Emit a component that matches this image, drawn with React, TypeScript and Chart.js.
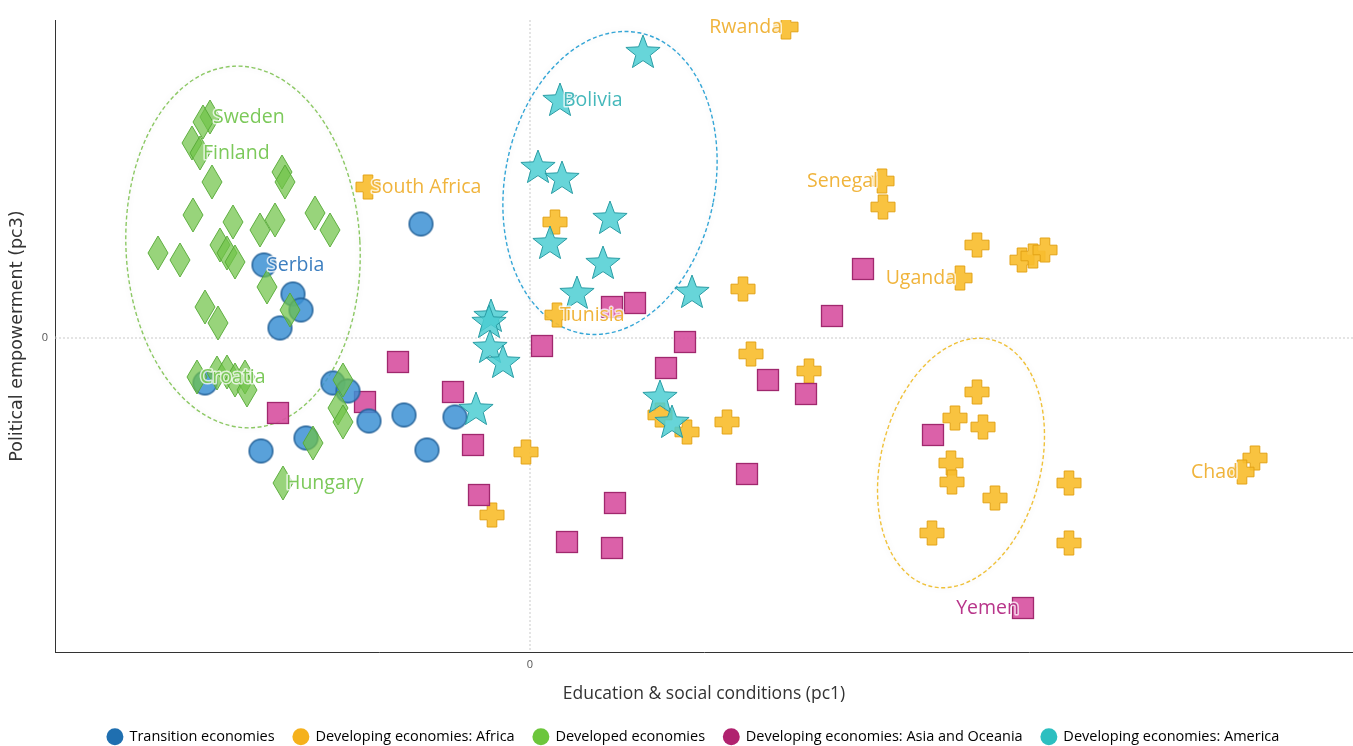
import React, { useEffect, useRef } from 'react';
import { Chart, registerables } from 'chart.js';

Chart.register(...registerables);

// ---------- Data (x = Education & social conditions pc1, y = Political empowerment pc3) ----------
const SERIES_NAMES = [
  'Transition economies',
  'Developing economies: Africa',
  'Developed economies',
  'Developing economies: Asia and Oceania',
  'Developing economies: America',
];

const transitionX = [-1.09, -2.66, -2.37, -2.29, -2.5, -3.25, -1.97, -1.82, -1.61, -1.26, -0.75, -2.69, -2.24, -1.03];
const transitionY = [1.14, 0.73, 0.44, 0.28, 0.1, -0.45, -0.45, -0.53, -0.83, -0.77, -0.79, -1.13, -1.0, -1.12];

const africaX = [2.56, -1.62, 3.52, 3.53, 0.25, 0.27, 2.13, 4.47, 4.92, 5.03, 5.15, 4.3, 2.21, 2.79, 1.97, 1.3, 1.57, -0.04, -0.38, 4.47, 4.25, 4.53, 4.21, 4.22, 4.65, 4.02, 5.39, 5.39, 7.25, 7.12];
const africaY = [3.11, 1.51, 1.57, 1.31, 1.16, 0.23, 0.49, 0.93, 0.78, 0.82, 0.88, 0.6, -0.16, -0.33, -0.84, -0.77, -0.94, -1.14, -1.77, -0.54, -0.8, -0.89, -1.25, -1.44, -1.6, -1.95, -1.45, -2.05, -1.2, -1.34];

const developedX = [-3.2, -3.27, -3.38, -3.3, -3.18, -2.48, -2.45, -3.37, -2.97, -2.7, -2.55, -2.15, -2.0, -3.72, -3.5, -3.1, -3.03, -2.95, -2.63, -3.25, -3.12, -2.4, -3.33, -3.13, -3.03, -2.95, -2.85, -2.83, -1.87, -1.92, -1.87, -2.17, -2.47];
const developedY = [2.21, 2.16, 1.95, 1.85, 1.56, 1.66, 1.56, 1.23, 1.16, 1.08, 1.18, 1.25, 1.08, 0.85, 0.78, 0.93, 0.85, 0.76, 0.51, 0.31, 0.15, 0.28, -0.39, -0.35, -0.34, -0.42, -0.39, -0.52, -0.42, -0.7, -0.84, -1.05, -1.45];

const asiaX = [-2.52, -1.32, -1.65, -0.77, -0.57, -0.51, 0.12, 0.37, 0.85, 0.82, 0.82, 1.05, 1.55, 1.36, 2.38, 2.76, 2.17, 3.02, 3.33, 4.03, 4.93];
const asiaY = [-0.75, -0.24, -0.64, -0.54, -1.07, -1.57, -0.08, -2.04, -1.65, -2.1, 0.31, 0.35, -0.04, -0.3, -0.42, -0.56, -1.36, 0.22, 0.69, -0.97, -2.7];

const americaX = [1.13, 0.3, 0.08, 0.32, 0.8, 0.2, 0.73, 0.47, 1.62, -0.39, -0.41, -0.4, -0.27, -0.54, 1.3, 1.42];
const americaY = [2.86, 2.38, 1.71, 1.6, 1.2, 0.95, 0.75, 0.45, 0.46, 0.22, 0.16, -0.09, -0.24, -0.71, -0.59, -0.84];

// Country labels: [series index, point index, text, side]
const LABELS: [number, number, string, 'left' | 'right'][] = [
  [0, 1, 'Serbia', 'right'],
  [2, 0, 'Sweden', 'right'],
  [2, 3, 'Finland', 'right'],
  [2, 22, 'Croatia', 'right'],
  [2, 32, 'Hungary', 'right'],
  [1, 0, 'Rwanda', 'left'],
  [1, 1, 'South Africa', 'right'],
  [1, 2, 'Senegal', 'left'],
  [1, 5, 'Tunisia', 'right'],
  [1, 11, 'Uganda', 'left'],
  [1, 29, 'Chad', 'left'],
  [3, 20, 'Yemen', 'left'],
  [4, 1, 'Bolivia', 'right'],
];

// Cluster ellipses (data units): cx, cy, rx, ry, rotation deg, color
const ELLIPSES: [number, number, number, number, number, string][] = [
  [-2.87, 0.91, 1.17, 1.81, -3, '#8cc864'],
  [0.8, 1.55, 1.05, 1.53, 11, '#35a6d6'],
  [4.31, -1.25, 0.8, 1.27, 14, '#efc13a'],
];

const X_MIN = -4.75;
const X_MAX = 8.23;
const Y_MIN = -3.14;
const Y_MAX = 3.18;

const X_TITLE = 'Education & social conditions (pc1)';
const Y_TITLE = 'Political empowerment (pc3)';

const LEGEND_COLORS = ['#1f6fb0', '#f5b11c', '#6cc63c', '#b0226f', '#2cbfc0'];
const LABEL_COLORS = ['#3d7fc0', '#f0b43c', '#7cc95a', '#b8358a', '#45b8bb'];

const W = 1353;
const H = 746;
const PLOT_BOTTOM = 652;
const PAD_BOTTOM = -8;
const LEGEND_SHIFT = 17;

// ---------- Marker images ----------
function makeCanvas(w: number, h: number, draw: (ctx: CanvasRenderingContext2D) => void) {
  const c = document.createElement('canvas');
  c.width = w;
  c.height = h;
  const ctx = c.getContext('2d') as CanvasRenderingContext2D;
  draw(ctx);
  return c;
}

function circleMarker(fill: string, stroke: string) {
  return makeCanvas(27, 27, (ctx) => {
    ctx.beginPath();
    ctx.arc(13.5, 13.5, 11.8, 0, Math.PI * 2);
    ctx.fillStyle = fill;
    ctx.fill();
    ctx.lineWidth = 1.4;
    ctx.strokeStyle = stroke;
    ctx.stroke();
  });
}

function diamondMarker(fill: string, stroke: string) {
  return makeCanvas(22, 36, (ctx) => {
    ctx.beginPath();
    ctx.moveTo(11, 1);
    ctx.lineTo(21, 18);
    ctx.lineTo(11, 35);
    ctx.lineTo(1, 18);
    ctx.closePath();
    ctx.fillStyle = fill;
    ctx.fill();
    ctx.lineWidth = 1;
    ctx.strokeStyle = stroke;
    ctx.stroke();
  });
}

function squareMarker(fill: string, stroke: string) {
  return makeCanvas(24, 24, (ctx) => {
    ctx.fillStyle = fill;
    ctx.fillRect(1.5, 1.5, 21, 21);
    ctx.lineWidth = 1.3;
    ctx.strokeStyle = stroke;
    ctx.strokeRect(1.5, 1.5, 21, 21);
  });
}

function plusMarker(fill: string, stroke: string) {
  return makeCanvas(28, 28, (ctx) => {
    const c = 14, a = 12, t = 4.8;
    ctx.beginPath();
    ctx.moveTo(c - t, c - a);
    ctx.lineTo(c + t, c - a);
    ctx.lineTo(c + t, c - t);
    ctx.lineTo(c + a, c - t);
    ctx.lineTo(c + a, c + t);
    ctx.lineTo(c + t, c + t);
    ctx.lineTo(c + t, c + a);
    ctx.lineTo(c - t, c + a);
    ctx.lineTo(c - t, c + t);
    ctx.lineTo(c - a, c + t);
    ctx.lineTo(c - a, c - t);
    ctx.lineTo(c - t, c - t);
    ctx.closePath();
    ctx.fillStyle = fill;
    ctx.fill();
    ctx.lineWidth = 1;
    ctx.strokeStyle = stroke;
    ctx.stroke();
  });
}

function starMarker(fill: string, stroke: string) {
  return makeCanvas(40, 40, (ctx) => {
    const cx = 20, cy = 21, R = 18, r = 7.6;
    ctx.beginPath();
    for (let i = 0; i < 10; i++) {
      const ang = -Math.PI / 2 + (i * Math.PI) / 5;
      const rad = i % 2 === 0 ? R : r;
      const px = cx + rad * Math.cos(ang);
      const py = cy + rad * Math.sin(ang);
      if (i === 0) ctx.moveTo(px, py);
      else ctx.lineTo(px, py);
    }
    ctx.closePath();
    ctx.fillStyle = fill;
    ctx.fill();
    ctx.lineWidth = 1;
    ctx.strokeStyle = stroke;
    ctx.stroke();
  });
}

function toPoints(xs: number[], ys: number[]) {
  return xs.map((x, i) => ({ x, y: ys[i] }));
}

function zeroPadding(s: any) {
  s.paddingLeft = 0;
  s.paddingRight = 0;
  s.paddingTop = 0;
  s.paddingBottom = 0;
}

const zeroLinesPlugin = {
  id: 'zeroLines',
  beforeDatasetsDraw(chart: any) {
    const { ctx, chartArea, scales } = chart;
    const x0 = scales.x.getPixelForValue(0);
    const y0 = scales.y.getPixelForValue(0);
    ctx.save();
    ctx.strokeStyle = '#c9c9c9';
    ctx.lineWidth = 1;
    ctx.setLineDash([2, 2]);
    ctx.beginPath();
    ctx.moveTo(x0, chartArea.top);
    ctx.lineTo(x0, chartArea.bottom);
    ctx.moveTo(chartArea.left, y0);
    ctx.lineTo(chartArea.right, y0);
    ctx.stroke();
    ctx.restore();

    // ellipses
    const sx = scales.x.getPixelForValue(1) - scales.x.getPixelForValue(0);
    const sy = scales.y.getPixelForValue(0) - scales.y.getPixelForValue(1);
    ELLIPSES.forEach(([cx, cy, rx, ry, rot, color]) => {
      ctx.save();
      ctx.beginPath();
      ctx.ellipse(
        scales.x.getPixelForValue(cx),
        scales.y.getPixelForValue(cy),
        rx * sx,
        ry * sy,
        (rot * Math.PI) / 180,
        0,
        Math.PI * 2
      );
      ctx.shadowColor = 'rgba(0,0,0,0.12)';
      ctx.shadowBlur = 6;
      ctx.strokeStyle = color;
      ctx.lineWidth = 1.4;
      ctx.setLineDash([4, 2.5]);
      ctx.stroke();
      ctx.restore();
    });
  },
};

const labelsPlugin = {
  id: 'countryLabels',
  afterDatasetsDraw(chart: any) {
    const { ctx } = chart;
    ctx.save();
    ctx.font = '19.5px "Open Sans", sans-serif';
    ctx.textBaseline = 'middle';
    LABELS.forEach(([s, i, text, side]) => {
      const el = chart.getDatasetMeta(s).data[i];
      if (!el) return;
      const x = side === 'right' ? el.x + 3 : el.x - 4;
      ctx.textAlign = side === 'right' ? 'left' : 'right';
      ctx.lineWidth = 3;
      ctx.strokeStyle = 'rgba(255,255,255,0.75)';
      ctx.lineJoin = 'round';
      ctx.strokeText(text, x, el.y);
      ctx.fillStyle = LABEL_COLORS[s];
      ctx.fillText(text, x, el.y);
    });
    ctx.restore();
  },
};

// Centre the legend under the plot area rather than the whole canvas
const legendShiftPlugin = {
  id: 'legendShift',
  afterLayout(chart: any) {
    if (chart.legend) {
      chart.legend.left += LEGEND_SHIFT;
      chart.legend.right += LEGEND_SHIFT;
    }
  },
};

export default function App() {
  const canvasRef = useRef<HTMLCanvasElement | null>(null);

  useEffect(() => {
    if (!canvasRef.current) return;
    const markers = [
      circleMarker('rgba(60,145,212,0.85)', '#215f96'),
      plusMarker('rgba(248,190,48,0.92)', '#e3a316'),
      diamondMarker('rgba(112,196,72,0.72)', 'rgba(84,168,52,0.9)'),
      squareMarker('rgba(216,84,162,0.92)', '#a0286e'),
      starMarker('rgba(76,206,210,0.85)', '#2a9ca4'),
    ];
    const seriesX = [transitionX, africaX, developedX, asiaX, americaX];
    const seriesY = [transitionY, africaY, developedY, asiaY, americaY];
    const drawOrder = [3, 5, 2, 4, 1];

    const chart = new Chart(canvasRef.current, {
      type: 'scatter',
      data: {
        datasets: SERIES_NAMES.map((name, k) => ({
          label: name,
          data: toPoints(seriesX[k], seriesY[k]),
          pointStyle: markers[k] as any,
          pointRadius: 10,
          backgroundColor: LEGEND_COLORS[k],
          borderColor: LEGEND_COLORS[k],
          order: drawOrder[k],
        })),
      },
      options: {
        animation: false,
        responsive: false,
        maintainAspectRatio: false,
        layout: { autoPadding: false, padding: { top: 20, left: 0, right: 0, bottom: PAD_BOTTOM } },
        scales: {
          x: {
            type: 'linear',
            min: X_MIN,
            max: X_MAX,
            afterBuildTicks: (s: any) => {
              s.ticks = [{ value: 0 }];
            },
            afterFit: (s: any) => {
              const lh = s.chart.legend ? s.chart.legend.height : 36;
              s.height = Math.max(20, H - PAD_BOTTOM - lh - PLOT_BOTTOM);
              zeroPadding(s);
            },
            grid: { display: false, drawTicks: false },
            border: { display: true, color: '#333', width: 1 },
            ticks: { padding: 6, color: '#555', font: { family: 'Open Sans', size: 11 } },
            title: {
              display: true,
              text: X_TITLE,
              color: '#333',
              font: { family: 'Open Sans', size: 17.5 },
              padding: { top: 8, bottom: 6 },
            },
          },
          y: {
            type: 'linear',
            min: Y_MIN,
            max: Y_MAX,
            afterBuildTicks: (s: any) => {
              s.ticks = [{ value: 0 }];
            },
            afterFit: (s: any) => {
              s.width = 55;
              zeroPadding(s);
            },
            grid: { display: false, drawTicks: false },
            border: { display: true, color: '#333', width: 1 },
            ticks: { padding: 7, color: '#555', font: { family: 'Open Sans', size: 11 } },
            title: {
              display: true,
              text: Y_TITLE,
              color: '#333',
              font: { family: 'DejaVu Sans', size: 17.5 },
              padding: { top: 7, bottom: 4 },
            },
          },
        },
        plugins: {
          tooltip: { enabled: false },
          legend: {
            position: 'bottom',
            labels: {
              usePointStyle: true,
              pointStyle: 'circle',
              boxHeight: 12,
              padding: 19,
              color: '#444',
              font: { family: 'Open Sans', size: 14.5 },
              generateLabels: () =>
                SERIES_NAMES.map((name, k) => ({
                  text: name,
                  fillStyle: LEGEND_COLORS[k],
                  strokeStyle: LEGEND_COLORS[k],
                  lineWidth: 0,
                  pointStyle: 'circle',
                  hidden: false,
                  datasetIndex: k,
                })),
            },
          },
        },
      },
      plugins: [zeroLinesPlugin, labelsPlugin, legendShiftPlugin],
    });
    return () => chart.destroy();
  }, []);

  return (
    <div style={{ position: 'fixed', left: 0, top: 0, width: W, height: H, background: '#fff' }}>
      <canvas ref={canvasRef} width={W} height={H} style={{ display: 'block', width: W, height: H }} />
    </div>
  );
}
